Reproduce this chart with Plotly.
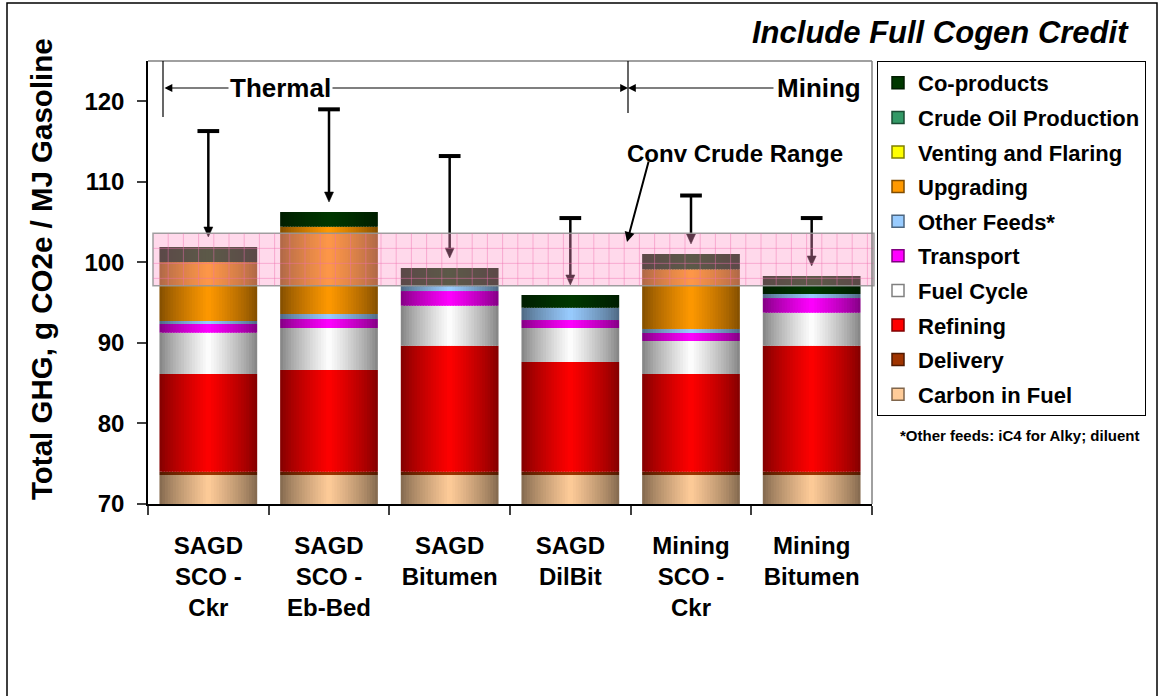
import plotly.graph_objects as go

# ---------------------------------------------------------------------------
# Data (g CO2e / MJ gasoline)
# ---------------------------------------------------------------------------
categories = [
    "SAGD<br>SCO -<br>Ckr",
    "SAGD<br>SCO -<br>Eb-Bed",
    "SAGD<br>Bitumen",
    "SAGD<br>DilBit",
    "Mining<br>SCO -<br>Ckr",
    "Mining<br>Bitumen",
]

carbon_in_fuel = [73.60, 73.60, 73.60, 73.60, 73.60, 73.60]
delivery = [0.41, 0.41, 0.41, 0.41, 0.41, 0.41]
refining = [12.13, 12.63, 15.64, 13.62, 12.13, 15.64]
fuel_cycle = [5.13, 5.21, 4.97, 4.22, 4.10, 4.10]
transport = [1.08, 1.12, 1.82, 0.99, 0.99, 1.82]
other_feeds = [0.37, 0.62, 0.62, 1.53, 0.50, 0.50]
upgrading = [7.32, 10.84, 0.00, 0.00, 7.41, 0.00]
venting_and_flaring = [0.0, 0.0, 0.0, 0.0, 0.0, 0.0]
crude_oil_production = [0.0, 0.0, 0.0, 0.0, 0.0, 0.0]
co_products = [1.87, 1.82, 2.24, 1.58, 1.90, 2.24]

# Totals without the cogen credit (T markers)
without_cogen_credit = [116.3, 119.0, 113.2, 105.5, 108.3, 105.5]

# Conventional crude range (low, high)
conv_crude_range = [97.1, 103.6]

y_ticks = [70, 80, 90, 100, 110, 120]

# stacking order, bottom to top: (legend name, values, base colour)
series = [
    ("Carbon in Fuel", carbon_in_fuel, (255, 204, 153)),
    ("Delivery", delivery, (160, 52, 0)),
    ("Refining", refining, (255, 0, 0)),
    ("Fuel Cycle", fuel_cycle, (255, 255, 255)),
    ("Transport", transport, (255, 0, 255)),
    ("Other Feeds*", other_feeds, (153, 204, 255)),
    ("Upgrading", upgrading, (255, 153, 0)),
    ("Venting and Flaring", venting_and_flaring, (255, 255, 0)),
    ("Crude Oil Production", crude_oil_production, (51, 153, 102)),
    ("Co-products", co_products, (0, 56, 0)),
]

# ---------------------------------------------------------------------------
# Geometry helpers
# ---------------------------------------------------------------------------
W, H = 1162, 696
ML, MR, MT, MB = 148, 290, 61, 192
PW, PH = W - ML - MR, H - MT - MB
Y0, Y1 = 70, 125
N = len(categories)


def px(x):
    return (x - ML) / PW


def py(y):
    return (H - MB - y) / PH


X_PER_PX = N / PW
Y_PER_PX = (Y1 - Y0) / PH

BAR_W = 0.81
SLICES = 36


def shade(rgb, t):
    f = 0.5 + 0.5 * (1 - abs(2 * t - 1)) ** 0.8
    return "rgb({},{},{})".format(*[int(round(c * f)) for c in rgb])


fig = go.Figure()

bases = [0.0] * N
for si, (name, vals, rgb) in enumerate(series):
    dw = BAR_W / SLICES
    for k in range(SLICES):
        t = (k + 0.5) / SLICES
        w = dw * 1.6 if k < SLICES - 1 else dw
        fig.add_trace(go.Bar(
            x=categories,
            y=vals,
            base=list(bases),
            width=[w] * N,
            offset=-BAR_W / 2 + k * dw,
            marker=dict(color=shade(rgb, t), line=dict(width=0)),
            name=name,
            legendgroup=name,
            legendrank=1000 - si,
            showlegend=False,
            hoverinfo="skip" if k != SLICES // 2 else None,
            hovertemplate=None if k != SLICES // 2 else name + ": %{y:.2f}<extra></extra>",
        ))
    # legend swatch: zero-height bar (sits below the visible range)
    fig.add_trace(go.Bar(
        x=[categories[0]], y=[0], base=[0], width=[0.01],
        marker=dict(color=shade(rgb, 0.5), line=dict(color=shade(rgb, 0.0), width=1.5)),
        name=name, legendgroup=name, legendrank=1000 - si,
        showlegend=True, hoverinfo="skip",
    ))
    bases = [b + v for b, v in zip(bases, vals)]

totals = bases

shapes = []

# arrows from "without credit" totals down to each bar
HEAD_HW = 4.5 * X_PER_PX
HEAD_H = 10 * Y_PER_PX
GAP = 10 * Y_PER_PX
CAP_HW = 0.09
for i, (top, tot) in enumerate(zip(without_cogen_credit, totals)):
    tip = tot + GAP
    shapes.append(dict(type="line", xref="x", yref="y", x0=i, x1=i,
                       y0=top, y1=tip + HEAD_H * 0.8, layer="above",
                       line=dict(color="black", width=2.5)))
    shapes.append(dict(type="path", xref="x", yref="y", layer="above",
                       path=f"M {i - HEAD_HW},{tip + HEAD_H} L {i + HEAD_HW},{tip + HEAD_H} L {i},{tip} Z",
                       fillcolor="black", line=dict(color="black", width=0.5)))
    shapes.append(dict(type="line", xref="x", yref="y", x0=i - CAP_HW, x1=i + CAP_HW,
                       y0=top, y1=top, layer="above",
                       line=dict(color="black", width=4)))

# conventional crude band with a fine grid pattern
band_x0, band_x1 = px(153), px(874)
lo, hi = conv_crude_range
shapes.append(dict(type="rect", xref="paper", yref="y", x0=band_x0, x1=band_x1,
                   y0=lo, y1=hi, layer="above",
                   fillcolor="rgba(255,150,200,0.36)",
                   line=dict(color="rgba(150,150,150,0.9)", width=1.5)))
gx = 153 + 15.2
while gx < 873:
    shapes.append(dict(type="line", xref="paper", yref="y", x0=px(gx), x1=px(gx),
                       y0=lo, y1=hi, layer="above",
                       line=dict(color="rgba(240,110,175,0.45)", width=1)))
    gx += 15.2
gy = hi - 15 * Y_PER_PX
while gy > lo + 2 * Y_PER_PX:
    shapes.append(dict(type="line", xref="paper", yref="y", x0=band_x0, x1=band_x1,
                       y0=gy, y1=gy, layer="above",
                       line=dict(color="rgba(240,110,175,0.45)", width=1)))
    gy -= 15 * Y_PER_PX

# plot-area frame (top and right) and outer chart border
shapes.append(dict(type="line", xref="paper", yref="paper", x0=0, x1=1, y0=1, y1=1,
                   line=dict(color="#808080", width=1.5)))
shapes.append(dict(type="line", xref="paper", yref="paper", x0=1, x1=1, y0=0, y1=1,
                   line=dict(color="#808080", width=1.5)))
shapes.append(dict(type="rect", xref="paper", yref="paper", x0=px(7), x1=px(1157),
                   y0=py(700), y1=py(3), line=dict(color="black", width=1.5)))

# Thermal / Mining separators
for sx, sy in [(163, 117), (628, 113)]:
    shapes.append(dict(type="line", xref="paper", yref="paper", x0=px(sx), x1=px(sx),
                       y0=py(61), y1=py(sy), line=dict(color="black", width=1.2)))

BOLD = dict(family="Liberation Sans, Arial, sans-serif", weight="bold", color="black")

annotations = [
    # Thermal span
    dict(xref="paper", yref="paper", x=px(628), y=py(88), ax=163 - 628, ay=0,
         axref="pixel", ayref="pixel", text="", showarrow=True,
         arrowhead=2, startarrowhead=2, arrowside="end+start", arrowsize=1.3,
         startarrowsize=1.3, arrowwidth=1.2, arrowcolor="black"),
    dict(xref="paper", yref="paper", x=px(280), y=py(88), text="Thermal",
         showarrow=False, bgcolor="white", font=dict(size=26, **BOLD),
         xanchor="center", yanchor="middle"),
    # Mining span
    dict(xref="paper", yref="paper", x=px(628), y=py(88), ax=775 - 628, ay=0,
         axref="pixel", ayref="pixel", text="", showarrow=True,
         arrowhead=2, arrowsize=1.3, arrowwidth=1.2, arrowcolor="black"),
    dict(xref="paper", yref="paper", x=px(863), y=py(88), text="Mining",
         showarrow=False, bgcolor="white", font=dict(size=26, **BOLD),
         xanchor="right", yanchor="middle"),
    # band label and pointer
    dict(xref="paper", yref="paper", x=px(627), y=py(242), ax=649 - 627, ay=160 - 242,
         axref="pixel", ayref="pixel", text="", showarrow=True,
         arrowhead=2, arrowsize=1, arrowwidth=2, arrowcolor="black"),
    dict(xref="paper", yref="paper", x=px(735), y=py(153), text="Conv Crude Range",
         showarrow=False, font=dict(size=24, **BOLD), xanchor="center", yanchor="middle"),
    # chart title
    dict(xref="paper", yref="paper", x=px(1131), y=py(32), text="Include Full Cogen Credit",
         showarrow=False, font=dict(size=31, style="italic", **BOLD),
         xanchor="right", yanchor="middle"),
    # y axis title
    dict(xref="paper", yref="paper", x=px(41), y=py(269), text="Total GHG, g CO2e / MJ Gasoline",
         showarrow=False, textangle=-90, font=dict(size=29.5, **BOLD),
         xanchor="center", yanchor="middle"),
    # footnote
    dict(xref="paper", yref="paper", x=px(1019), y=py(435),
         text="*Other feeds: iC4 for Alky; diluent",
         showarrow=False, font=dict(size=15, **BOLD), xanchor="center", yanchor="middle"),
]

fig.update_layout(
    width=W, height=H,
    margin=dict(l=ML, r=MR, t=MT, b=MB, autoexpand=False),
    paper_bgcolor="white", plot_bgcolor="white",
    barmode="overlay",
    font=dict(family="Liberation Sans, Arial, sans-serif", color="black"),
    xaxis=dict(type="category", range=[-0.5, N - 0.5], tickson="boundaries",
               ticks="outside", ticklen=9, tickwidth=1.5, tickcolor="#404040",
               showline=True, linecolor="black", linewidth=1.5, showgrid=False,
               tickfont=dict(size=24, **BOLD), ticklabelstandoff=19),
    yaxis=dict(range=[Y0, Y1], tickvals=y_ticks, ticks="outside", ticklen=9,
               tickwidth=1.5, tickcolor="#404040", showline=True, linecolor="black",
               linewidth=1.5, showgrid=False, zeroline=False,
               tickfont=dict(size=24, **BOLD), ticklabelstandoff=8),
    legend=dict(x=px(877), y=py(61), xanchor="left", yanchor="top",
                bgcolor="white", bordercolor="black", borderwidth=1,
                font=dict(size=22, **BOLD), traceorder="grouped", tracegroupgap=3,
                itemclick=False, itemdoubleclick=False),
    shapes=shapes,
    annotations=annotations,
    showlegend=True,
)

fig.write_html("out.html")
